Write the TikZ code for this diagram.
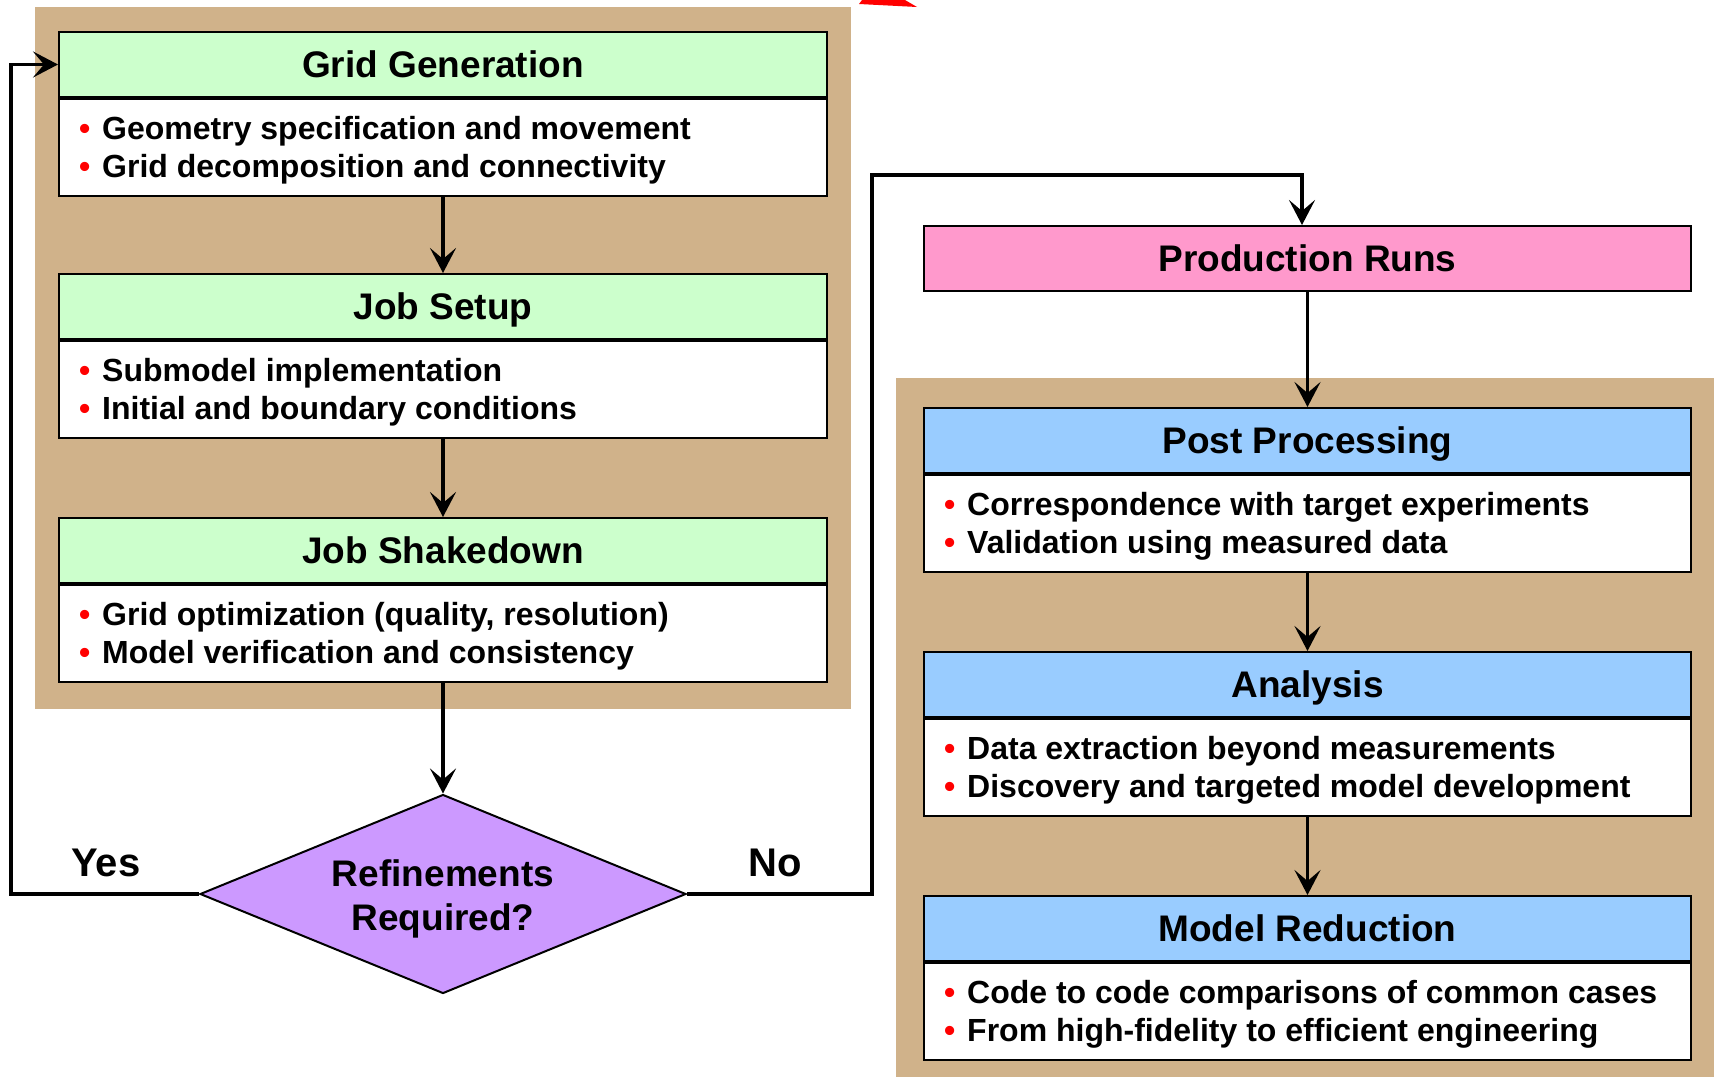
\documentclass[tikz,border=0pt]{standalone}
\usepackage{fontspec}
\setmainfont{Liberation Sans}
\usetikzlibrary{shapes.geometric,arrows.meta,positioning}
\definecolor{tanbg}{RGB}{208,178,138}
\definecolor{hgreen}{RGB}{204,255,204}
\definecolor{hpink}{RGB}{255,153,204}
\definecolor{hblue}{RGB}{153,204,255}
\definecolor{hpurple}{RGB}{204,153,255}
\newcommand{\hfnt}{\fontsize{37}{44}\selectfont\bfseries}
\newcommand{\bfnt}{\fontsize{32}{38}\selectfont\bfseries}
\newcommand{\bul}{\makebox[23pt][l]{\textcolor{red}{\textbullet}}}
\begin{document}
\begin{tikzpicture}[x=1pt,y=1pt,
  hdr/.style={draw, line width=2pt, minimum width=768pt, minimum height=65pt, inner sep=0pt, text depth=0pt, font=\hfnt},
  bdy/.style={draw, fill=white, line width=2pt, minimum width=768pt, minimum height=97pt, inner sep=0pt},
  btxt/.style={anchor=west, align=left, inner sep=0pt, font=\bfnt},
  conn/.style={line width=3.6pt, -{Stealth[length=25pt,width=26pt,inset=11pt]}},
  lbl/.style={font=\fontsize{40}{44}\selectfont\bfseries, inner sep=0pt}]
\useasboundingbox (0,0) rectangle (1714,-1077);
% background panels
\fill[tanbg] (35,-7) rectangle (851,-709);
\fill[tanbg] (896,-378) rectangle (1714,-1077);
% stray red shape at top
\fill[red] (859,-4) -- (862,0) -- (905,0) -- (917,-7) -- cycle;

% left column
\node[hdr, fill=hgreen, anchor=north west] (ggh) at (58,-31) {Grid Generation};
\node[bdy, anchor=north] (ggb) at (ggh.south) {};
\node[btxt] (ggt) at ([xshift=21pt,yshift=-3pt]ggb.west) {\bul Geometry specification and movement\\\bul Grid decomposition and connectivity};

\node[hdr, fill=hgreen, anchor=north west] (jsh) at (58,-273) {Job Setup};
\node[bdy, anchor=north] (jsb) at (jsh.south) {};
\node[btxt] (jst) at ([xshift=21pt,yshift=-3pt]jsb.west) {\bul Submodel implementation\\\bul Initial and boundary conditions};

\node[hdr, fill=hgreen, anchor=north west] (jkh) at (58,-517) {Job Shakedown};
\node[bdy, anchor=north] (jkb) at (jkh.south) {};
\node[btxt] (jkt) at ([xshift=21pt,yshift=-3pt]jkb.west) {\bul Grid optimization (quality, resolution)\\\bul Model verification and consistency};

\node[diamond, draw, fill=hpurple, line width=2pt, aspect=2.44, minimum width=486pt, minimum height=199pt, inner sep=0pt] (dia) at (443,-894) {};
\node[align=center, inner sep=0pt, font=\fontsize{37}{44}\selectfont\bfseries] (diat) at ([yshift=-5pt]dia.center) {Refinements\\Required?};

% right column
\node[hdr, fill=hpink, anchor=north west, minimum width=767pt] (prh) at (923,-225) {Production Runs};

\node[hdr, fill=hblue, anchor=north west, minimum width=767pt] (pph) at (923,-407) {Post Processing};
\node[bdy, anchor=north, minimum width=767pt] (ppb) at (pph.south) {};
\node[btxt] (ppt) at ([xshift=21pt,yshift=-3pt]ppb.west) {\bul Correspondence with target experiments\\\bul Validation using measured data};

\node[hdr, fill=hblue, anchor=north west, minimum width=767pt] (anh) at (923,-651) {Analysis};
\node[bdy, anchor=north, minimum width=767pt] (anb) at (anh.south) {};
\node[btxt] (ant) at ([xshift=21pt,yshift=-3pt]anb.west) {\bul Data extraction beyond measurements\\\bul Discovery and targeted model development};

\node[hdr, fill=hblue, anchor=north west, minimum width=767pt] (mrh) at (923,-895) {Model Reduction};
\node[bdy, anchor=north, minimum width=767pt] (mrb) at (mrh.south) {};
\node[btxt] (mrt) at ([xshift=21pt,yshift=-3pt]mrb.west) {\bul Code to code comparisons of common cases\\\bul From high-fidelity to efficient engineering};

% connectors
\draw[conn] (ggb.south) -- (jsh.north);
\draw[conn] (jsb.south) -- (jkh.north);
\draw[conn] (jkb.south) -- (dia.north);
\coordinate (yc) at (11,-894);
\draw[conn] (dia.west) -- (yc) |- (ggh.west);
\coordinate (nc1) at (872,-894);
\coordinate (nc2) at (1302,-175);
\coordinate (nc3) at (1302,-225);
\draw[conn] (dia.east) -- (nc1) |- (nc2) -- (nc3);
\draw[conn] (prh.south) -- (pph.north);
\draw[conn] (ppb.south) -- (anh.north);
\draw[conn] (anb.south) -- (mrh.north);

\node[lbl] (yes) at (106,-863) {Yes};
\node[lbl] (no) at (775,-863) {No};
\end{tikzpicture}
\end{document}
